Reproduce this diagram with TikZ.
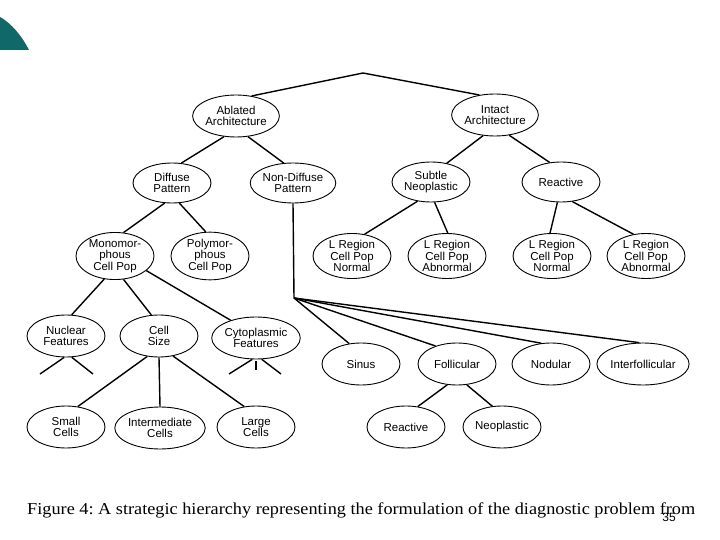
\documentclass[tikz,border=0pt]{standalone}
\usepackage{fontspec}
\setmainfont{Liberation Serif}
\setsansfont{Liberation Sans}
\usetikzlibrary{shapes.geometric}
\definecolor{teal1}{RGB}{16,104,104}
\tikzset{
  el/.style={ellipse,draw,line width=0.9pt,minimum width=78pt,minimum height=42pt,inner sep=0pt,
    align=center,font=\sffamily\fontsize{11.5}{11.5}\selectfont},
  ed/.style={line width=1.4pt},
}
\begin{document}
\begin{tikzpicture}[x=1pt,y=-1pt]
\useasboundingbox (0,0) rectangle (720,540);
\fill[teal1] (0,17) .. controls (11,23) and (22,36) .. (29,50) -- (0,50) -- cycle;
% nodes
\node[el] (abl) at (236,116) {Ablated\\Architecture};
\node[el] (int) at (495,115) {Intact\\Architecture};
\node[el,minimum height=40pt] (dif) at (172,183) {Diffuse\\Pattern};
\node[el,minimum height=40pt] (ndf) at (293,183) {Non-Diffuse\\Pattern};
\node[el,minimum height=40pt] (sub) at (431,182) {Subtle\\Neoplastic};
\node[el,minimum height=40pt] (rea) at (561,182) {Reactive};
\node[el,minimum height=45pt] (mon) at (115,256) {Monomor-\\phous\\Cell Pop};
\node[el,minimum height=45pt] (pol) at (210,256) {Polymor-\\phous\\Cell Pop};
\node[el,minimum height=45pt] (l1) at (352,256) {L Region\\Cell Pop\\Normal};
\node[el,minimum height=45pt] (l2) at (447,256) {L Region\\Cell Pop\\Abnormal};
\node[el,minimum height=45pt] (l3) at (552,256) {L Region\\Cell Pop\\Normal};
\node[el,minimum height=45pt] (l4) at (646,256) {L Region\\Cell Pop\\Abnormal};
\node[el] (nuc) at (66,336) {Nuclear\\Features};
\node[el] (csz) at (159,336) {Cell\\Size};
\node[el] (cyt) at (256,338) {Cytoplasmic\\Features};
\node[el] (sin) at (361,364) {Sinus};
\node[el] (fol) at (457,364) {Follicular};
\node[el] (nod) at (551,364) {Nodular};
\node[el] (itf) at (643,364) {Interfollicular};
\node[el] (sml) at (66,427) {Small\\Cells};
\node[el] (imd) at (160,428) {Intermediate\\Cells};
\node[el] (lrg) at (256,427) {Large\\Cells};
\node[el] (fre) at (406,427) {Reactive};
\node[el] (fne) at (502,427) {Neoplastic};
% coordinates
\coordinate (apex) at (363,73);
\coordinate (fan) at (294,298);
\coordinate (n1) at (40,374); \coordinate (n2) at (93,374);
\coordinate (c1) at (229,374); \coordinate (c2) at (256,370); \coordinate (c3) at (281,374);
% edges
\draw[ed] (abl.52) -- (apex) -- (int.128);
\draw[ed] (abl.240) -- (dif.65);
\draw[ed] (abl.300) -- (ndf.115);
\draw[ed] (int.240) -- (sub.50);
\draw[ed] (int.305) -- (rea.120);
\draw[ed] (dif.250) -- (mon.70);
\draw[ed] (dif.290) -- (pol.100);
\draw[ed] (sub.235) -- (l1.60);
\draw[ed] (sub.280) -- (l2.88);
\draw[ed] (rea.260) -- (l3.95);
\draw[ed] (rea.300) -- (l4.120);
\draw[ed] (mon.245) -- (nuc.75);
\draw[ed] (mon.290) -- (csz.110);
\draw[ed] (mon.335) -- (cyt.145);
\draw[ed] (nuc.265) -- (n1);
\draw[ed] (nuc.285) -- (n2);
\draw[ed] (cyt.260) -- (c1);
\draw[ed] ([yshift=-2pt]cyt.270) -- (c2);
\draw[ed] (cyt.285) -- (c3);
\draw[ed] (csz.240) -- (sml.60);
\draw[ed] (csz.270) -- (imd.90);
\draw[ed] (csz.305) -- (lrg.120);
\draw[ed] (ndf.270) -- (fan);
\draw[ed] (fan) -- (sin.120);
\draw[ed] (fan) -- (fol.140);
\draw[ed] (fan) -- (nod.115);
\draw[ed] (fan) -- (itf.100);
\draw[ed] (fol.245) -- (fre.60);
\draw[ed] (fol.295) -- (fne.115);
% caption
\node[anchor=base west,inner sep=0pt,font=\fontsize{16.7}{16.7}\selectfont] (cap) at (27,514)
  {\resizebox{668pt}{\height}{Figure 4:\ A strategic hierarchy representing the formulation of the diagnostic problem from}};
\node[inner sep=0pt,font=\sffamily\fontsize{12}{12}\selectfont] (pg) at (669,517) {35};
\end{tikzpicture}
\end{document}
